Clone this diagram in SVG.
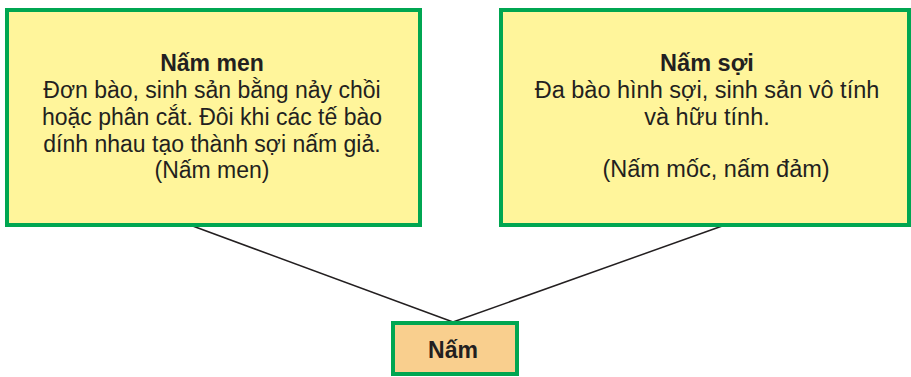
<svg xmlns="http://www.w3.org/2000/svg" width="911" height="377" viewBox="0 0 911 377">
<style>
.box{fill:#FFF59B;stroke:#00A651;stroke-width:4}
.root{fill:#F9CF8E;stroke:#00A651;stroke-width:4}
text{font-family:"Liberation Sans",Arial,sans-serif;font-size:23px;fill:#231F20;text-anchor:middle}
.r{font-size:23.5px}
.b{font-weight:bold}
.conn line{stroke:#231F20;stroke-width:1.5}
</style>
<rect width="911" height="377" fill="#FFFFFF"/>
<g class="conn">
<line x1="190" y1="225" x2="453" y2="322"/>
<line x1="725" y1="225" x2="453" y2="322"/>
</g>
<g id="nam-men">
<rect class="box" x="7" y="10" width="413" height="215"/>
<text x="212" y="71" class="b">Nấm men</text>
<text x="212" y="98">Đơn bào, sinh sản bằng nảy chồi</text>
<text x="212" y="125">hoặc phân cắt. Đôi khi các tế bào</text>
<text x="212" y="152">dính nhau tạo thành sợi nấm giả.</text>
<text x="212" y="178">(Nấm men)</text>
</g>
<g id="nam-soi">
<rect class="box" x="501" y="10" width="408" height="215"/>
<text x="707" y="71" class="b r">Nấm sợi</text>
<text x="707" y="98" class="r">Đa bào hình sợi, sinh sản vô tính</text>
<text x="707" y="125" class="r">và hữu tính.</text>
<text x="716" y="177" class="r">(Nấm mốc, nấm đảm)</text>
</g>
<g id="nam">
<rect class="root" x="393" y="323" width="124" height="51"/>
<text x="453" y="358" class="b">Nấm</text>
</g>
</svg>
